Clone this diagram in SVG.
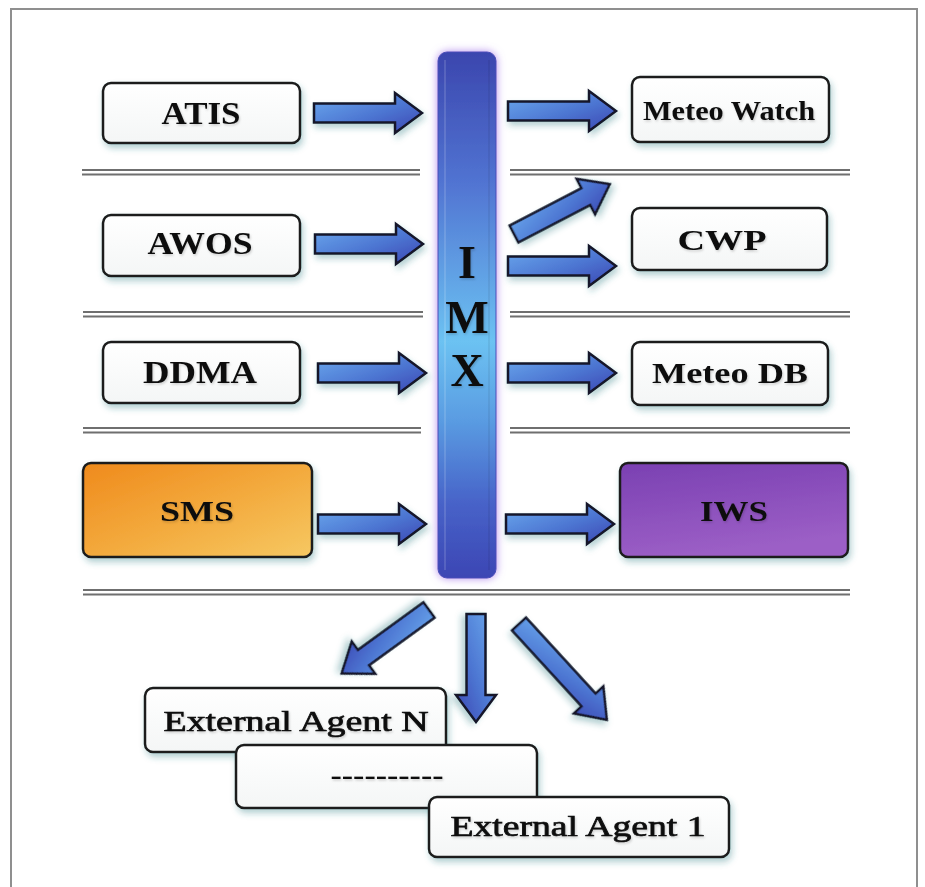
<svg xmlns="http://www.w3.org/2000/svg" width="925" height="887" viewBox="0 0 925 887">
<defs>
  <linearGradient id="gArrow" x1="0" y1="0" x2="1" y2="1">
    <stop offset="0" stop-color="#6aaaee"/>
    <stop offset="0.55" stop-color="#4d76d2"/>
    <stop offset="1" stop-color="#3a45b2"/>
  </linearGradient>
  <linearGradient id="gBar" x1="0" y1="0" x2="0" y2="1">
    <stop offset="0" stop-color="#3b46ae"/>
    <stop offset="0.25" stop-color="#5174d2"/>
    <stop offset="0.55" stop-color="#6cc2f2"/>
    <stop offset="0.7" stop-color="#5a9ce2"/>
    <stop offset="0.86" stop-color="#4762c8"/>
    <stop offset="1" stop-color="#3c46b4"/>
  </linearGradient>
  <linearGradient id="gBox" x1="0" y1="0" x2="0" y2="1">
    <stop offset="0" stop-color="#ffffff"/>
    <stop offset="1" stop-color="#f4f6f6"/>
  </linearGradient>
  <linearGradient id="gOrange" x1="0" y1="0" x2="1" y2="1">
    <stop offset="0" stop-color="#ef8a1c"/>
    <stop offset="0.5" stop-color="#f3a93c"/>
    <stop offset="1" stop-color="#f6c862"/>
  </linearGradient>
  <linearGradient id="gPurple" x1="0" y1="0" x2="0.3" y2="1">
    <stop offset="0" stop-color="#7a40b2"/>
    <stop offset="1" stop-color="#9c5fc6"/>
  </linearGradient>
  <filter id="shadow" x="-10%" y="-20%" width="125%" height="160%">
    <feDropShadow dx="2" dy="4" stdDeviation="3" flood-color="#2f7a80" flood-opacity="0.35"/>
  </filter>
  <filter id="tshadow" x="-5%" y="-20%" width="115%" height="150%">
    <feDropShadow dx="1" dy="1.5" stdDeviation="0.8" flood-color="#000" flood-opacity="0.18"/>
  </filter>
  <filter id="glow" x="-50%" y="-5%" width="200%" height="110%">
    <feDropShadow dx="0" dy="0" stdDeviation="4" flood-color="#a070e8" flood-opacity="0.8"/>
  </filter>
  <path id="arr" d="M0,-9.5 H81 V-20 L108,0 L81,20 V9.5 H0 Z"/>
  <path id="arrL" d="M0,-9.5 H103 V-20 L130,0 L103,20 V9.5 H0 Z"/>
</defs>
<style>
  .frame{fill:#ffffff;stroke:#8f8f8f;stroke-width:2}
  .box{fill:url(#gBox);stroke:#1c1c1c;stroke-width:2.5;filter:url(#shadow)}
  .lbl{font-family:"Liberation Serif","Times New Roman",serif;font-weight:bold;fill:#111111;text-anchor:middle;filter:url(#tshadow)}
  .ext{font-weight:normal;stroke:#111111;stroke-width:0.7}
  .sep{stroke:#6f6f6f;stroke-width:2.2;fill:none}
  .arrow{fill:url(#gArrow);stroke:#15152a;stroke-width:2.5;stroke-linejoin:miter;filter:url(#shadow)}
</style>

<rect class="frame" x="11" y="9" width="906" height="900"/>

<g id="separators">
  <path class="sep" d="M82,170 H420 M82,174.5 H420 M510,170 H850 M510,174.5 H850"/>
  <path class="sep" d="M83,312 H423 M83,316.5 H423 M510,312 H850 M510,316.5 H850"/>
  <path class="sep" d="M83,428 H421 M83,432.5 H421 M510,428 H850 M510,432.5 H850"/>
  <path class="sep" d="M83,590 H850 M83,594.5 H850"/>
</g>

<g id="IMX">
  <rect x="438" y="52" width="58" height="526" rx="9" fill="url(#gBar)" stroke="#4a4fb8" stroke-width="1" filter="url(#glow)"/>
  <line x1="445" y1="60" x2="445" y2="570" stroke="#ffffff" stroke-opacity="0.18" stroke-width="1.5"/>
  <line x1="489" y1="60" x2="489" y2="570" stroke="#000000" stroke-opacity="0.08" stroke-width="1.5"/>
  <text class="lbl" x="467" y="278" font-size="46">I</text>
  <text class="lbl" x="467" y="333" font-size="46">M</text>
  <text class="lbl" x="467" y="386" font-size="46">X</text>
</g>

<g id="ATIS">
  <rect class="box" x="103" y="83" width="197" height="60" rx="8"/>
  <text class="lbl" x="201" y="124" font-size="31" textLength="79" lengthAdjust="spacingAndGlyphs">ATIS</text>
</g>
<g id="AWOS">
  <rect class="box" x="103" y="215" width="197" height="61" rx="8"/>
  <text class="lbl" x="200" y="254" font-size="31" textLength="105" lengthAdjust="spacingAndGlyphs">AWOS</text>
</g>
<g id="DDMA">
  <rect class="box" x="103" y="342" width="197" height="61" rx="8"/>
  <text class="lbl" x="200" y="383" font-size="31" textLength="114" lengthAdjust="spacingAndGlyphs">DDMA</text>
</g>
<g id="SMS">
  <rect class="box" x="83" y="463" width="229" height="94" rx="8" style="fill:url(#gOrange)"/>
  <text class="lbl" x="197" y="521" font-size="30" textLength="74" lengthAdjust="spacingAndGlyphs">SMS</text>
</g>
<g id="MeteoWatch">
  <rect class="box" x="632" y="77" width="197" height="65" rx="8"/>
  <text class="lbl" x="729" y="120" font-size="27" textLength="172" lengthAdjust="spacingAndGlyphs">Meteo Watch</text>
</g>
<g id="CWP">
  <rect class="box" x="632" y="208" width="195" height="62" rx="8"/>
  <text class="lbl" x="722" y="250" font-size="30" textLength="89" lengthAdjust="spacingAndGlyphs">CWP</text>
</g>
<g id="MeteoDB">
  <rect class="box" x="632" y="342" width="196" height="63" rx="8"/>
  <text class="lbl" x="730" y="383" font-size="29" textLength="156" lengthAdjust="spacingAndGlyphs">Meteo DB</text>
</g>
<g id="IWS">
  <rect class="box" x="620" y="463" width="228" height="94" rx="8" style="fill:url(#gPurple)"/>
  <text class="lbl" x="734" y="521" font-size="30" textLength="68" lengthAdjust="spacingAndGlyphs">IWS</text>
</g>

<g id="ExternalAgentN">
  <rect class="box" x="145" y="688" width="301" height="64" rx="8"/>
  <text class="lbl ext" x="296" y="731" font-size="29" textLength="265" lengthAdjust="spacingAndGlyphs">External Agent N</text>
</g>
<g id="ExternalAgentDots">
  <rect class="box" x="236" y="745" width="301" height="63" rx="8"/>
  <text class="lbl" x="387" y="784" font-size="28" textLength="113" lengthAdjust="spacingAndGlyphs">----------</text>
</g>
<g id="ExternalAgent1">
  <rect class="box" x="429" y="797" width="300" height="60" rx="8"/>
  <text class="lbl ext" x="578" y="836" font-size="29" textLength="255" lengthAdjust="spacingAndGlyphs">External Agent 1</text>
</g>

<g id="connectors">
  <use href="#arr" class="arrow" transform="translate(314,113)"/>
  <use href="#arr" class="arrow" transform="translate(315,244)"/>
  <use href="#arr" class="arrow" transform="translate(318,373)"/>
  <use href="#arr" class="arrow" transform="translate(318,524)"/>
  <use href="#arr" class="arrow" transform="translate(508,111)"/>
  <use href="#arr" class="arrow" transform="translate(514,234) rotate(-27.5)"/>
  <use href="#arr" class="arrow" transform="translate(508,266)"/>
  <use href="#arr" class="arrow" transform="translate(508,373)"/>
  <use href="#arr" class="arrow" transform="translate(506,524)"/>
  <use href="#arr" class="arrow" transform="translate(429,610) rotate(144)"/>
  <use href="#arr" class="arrow" transform="translate(476,614) rotate(90)"/>
  <use href="#arrL" class="arrow" transform="translate(519,624) rotate(47.5)"/>
</g>
</svg>
